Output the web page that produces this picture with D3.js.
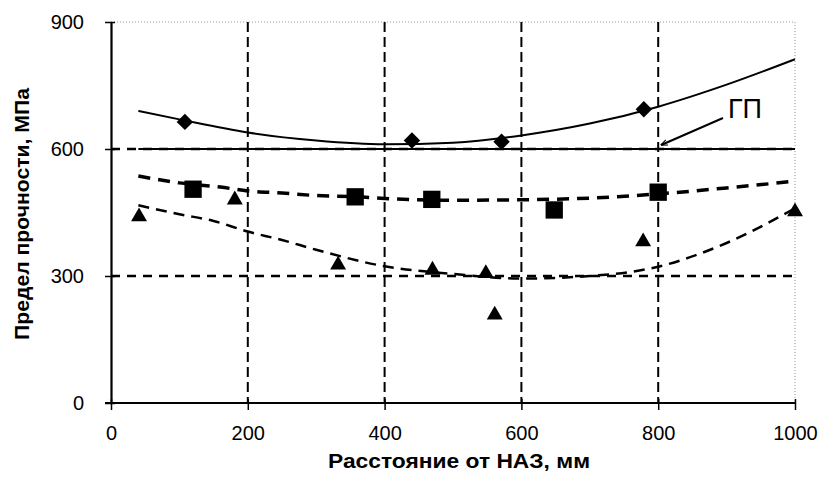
<!DOCTYPE html>
<html><head><meta charset="utf-8">
<script src="https://cdn.jsdelivr.net/npm/d3@7"></script>
<style>body{margin:0;background:#fff}svg{display:block}</style>
</head><body>
<svg id="c" width="819" height="477"></svg>
<script>
// ---- data ----
const xTicks = [0, 200, 400, 600, 800, 1000];
const yTicks = [0, 300, 600, 900];
const xGrid = [200, 400, 600, 800];
const yGrid = [300, 600];

const diamondX = [108, 440, 571, 779];
const diamondY = [664, 620, 617, 694];
const squareX = [120, 357, 469, 648, 800];
const squareY = [505, 487, 481, 456, 498];
const triangleX = [41, 181, 332, 470, 548, 561, 778, 1000];
const triangleY = [440, 480, 326, 314, 306, 208, 381, 452];

// trend lines
const trendDX = [40, 100, 200, 300, 400, 500, 600, 700, 800, 900, 1000];
const trendDY = [690, 670, 639, 620, 611, 615, 632, 660, 700, 752, 812];
const trendSX = [40, 100, 160, 200, 250, 300, 360, 400, 500, 600, 700, 800, 900, 1000];
const trendSY = [536, 520, 510, 501, 496, 490, 487, 483, 479, 480, 484, 494, 508, 524];
const trendTX = [40, 100, 150, 200, 250, 300, 400, 500, 600, 700, 800, 900, 1000];
const trendTY = [467, 446, 430, 405, 385, 362, 323, 305, 294, 300, 322, 378, 460];

const gpX = [40, 1000];
const gpY = [600, 600];
const gpLabel = "ГП";
const gpPointX = 800, gpPointY = 600;

const xTitle = "Расстояние от НАЗ, мм";
const yTitle = "Предел прочности, МПа";

// ---- drawing ----
const svg = d3.select("#c");
const font = "'Liberation Sans', Arial, sans-serif";
const x = d3.scaleLinear().domain([0, 1000]).range([111, 795]);
const y = d3.scaleLinear().domain([0, 900]).range([403, 22]);

// frame top/right (faint dotted)
svg.append("line").attr("x1", x(0)).attr("x2", x(1000)).attr("y1", y(900)).attr("y2", y(900))
  .attr("stroke", "#999").attr("stroke-width", 1).attr("stroke-dasharray", "1,2");
svg.append("line").attr("x1", x(1000)).attr("x2", x(1000)).attr("y1", y(900)).attr("y2", y(0))
  .attr("stroke", "#999").attr("stroke-width", 1).attr("stroke-dasharray", "1,2");

// grid
svg.selectAll(".vg").data(xGrid).enter().append("line")
  .attr("x1", d => x(d)).attr("x2", d => x(d)).attr("y1", y(900)).attr("y2", y(0))
  .attr("stroke", "#000").attr("stroke-width", 2).attr("stroke-dasharray", "10,5");
svg.selectAll(".hg").data(yGrid).enter().append("line")
  .attr("x1", x(0)).attr("x2", x(1000)).attr("y1", d => y(d)).attr("y2", d => y(d))
  .attr("stroke", "#000").attr("stroke-width", 2.5).attr("stroke-dasharray", "9,7");

// axes
const xAxis = d3.axisBottom(x).tickValues(xTicks).tickFormat(d3.format("d"))
  .tickSize(7).tickPadding(16).tickSizeOuter(0);
const gx = svg.append("g").attr("transform", `translate(0,${y(0)})`).call(xAxis);
gx.select(".domain").attr("stroke-width", 2.2).attr("d", `M${x(0)-6},0H${x(1000)}`);
gx.selectAll(".tick line").attr("stroke-width", 1.5).attr("y1", -4);
gx.selectAll("text").attr("font-family", font).attr("font-size", 20).attr("fill", "#000");

const yAxis = d3.axisLeft(y).tickValues(yTicks).tickFormat(d3.format("d"))
  .tickSize(6).tickPadding(21).tickSizeOuter(0);
const gy = svg.append("g").attr("transform", `translate(${x(0)},0)`).call(yAxis);
gy.select(".domain").attr("stroke-width", 2.2);
gy.selectAll(".tick line").attr("stroke-width", 1.5).attr("x1", 4);
gy.selectAll("text").attr("font-family", font).attr("font-size", 20).attr("fill", "#000");

// titles
svg.append("text").attr("x", 459).attr("y", 468).attr("text-anchor", "middle")
  .attr("font-family", font).attr("font-weight", "bold").attr("font-size", 20)
  .attr("textLength", 262).attr("lengthAdjust", "spacingAndGlyphs").text(xTitle);
svg.append("text").attr("transform", `translate(29,214) rotate(-90)`).attr("text-anchor", "middle")
  .attr("font-family", font).attr("font-weight", "bold").attr("font-size", 20)
  .attr("textLength", 252).attr("lengthAdjust", "spacingAndGlyphs").text(yTitle);

// lines
const line = d3.line().x(d => x(d[0])).y(d => y(d[1])).curve(d3.curveMonotoneX);
svg.append("path").datum(d3.zip(gpX, gpY)).attr("d", line).attr("fill", "none")
  .attr("stroke", "#000").attr("stroke-width", 2);
svg.append("path").datum(d3.zip(trendDX, trendDY)).attr("d", line).attr("fill", "none")
  .attr("stroke", "#000").attr("stroke-width", 2);
svg.append("path").datum(d3.zip(trendSX, trendSY)).attr("d", line).attr("fill", "none")
  .attr("stroke", "#000").attr("stroke-width", 3.5).attr("stroke-dasharray", "12,8");
svg.append("path").datum(d3.zip(trendTX, trendTY)).attr("d", line).attr("fill", "none")
  .attr("stroke", "#000").attr("stroke-width", 2.5).attr("stroke-dasharray", "11,7");

// markers
svg.selectAll(".dm").data(d3.zip(diamondX, diamondY)).enter().append("path")
  .attr("d", d3.symbol().type(d3.symbolSquare).size(135)())
  .attr("transform", d => `translate(${x(d[0])},${y(d[1])}) rotate(45)`).attr("fill", "#000");
svg.selectAll(".sq").data(d3.zip(squareX, squareY)).enter().append("path")
  .attr("d", d3.symbol().type(d3.symbolSquare).size(300)())
  .attr("transform", d => `translate(${x(d[0])},${y(d[1])})`).attr("fill", "#000");
svg.selectAll(".tr").data(d3.zip(triangleX, triangleY)).enter().append("path")
  .attr("d", d3.symbol().type(d3.symbolTriangle).size(110)())
  .attr("transform", d => `translate(${x(d[0])},${y(d[1])})`).attr("fill", "#000");

// ГП label + arrow
svg.append("defs").append("marker").attr("id", "ah").attr("viewBox", "0 0 10 10")
  .attr("refX", 9).attr("refY", 5).attr("markerWidth", 7).attr("markerHeight", 7)
  .attr("orient", "auto-start-reverse").attr("markerUnits", "userSpaceOnUse")
  .append("path").attr("d", "M0,1 L10,5 L0,9").attr("fill", "none").attr("stroke", "#000").attr("stroke-width", 1.5);
svg.append("line").attr("x1", 723).attr("y1", 118).attr("x2", x(gpPointX) + 3).attr("y2", y(gpPointY) - 4)
  .attr("stroke", "#000").attr("stroke-width", 2).attr("marker-end", "url(#ah)");
svg.append("text").attr("x", 728).attr("y", 118).attr("font-family", font).attr("font-size", 27)
  .attr("fill", "#000").text(gpLabel);
</script>
</body></html>
